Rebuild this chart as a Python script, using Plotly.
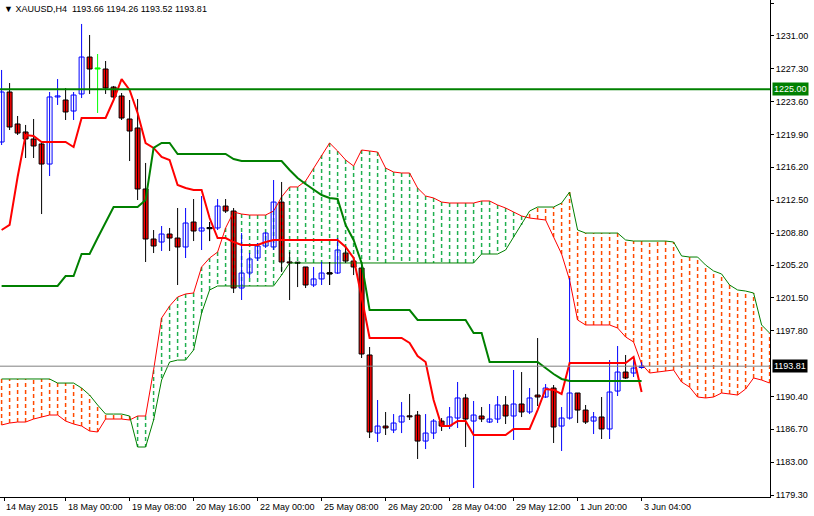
import plotly.graph_objects as go

opens = [1219.05,1224.68,1221.08,1220.18,1219.39,1218.83,1216.57,1224.12,1223.78,1222.54,
         1224.46,1228.62,1227.27,1227.27,1225.24,1224.23,1221.64,1220.63,1213.76,1208.13,
         1207.79,1208.69,1208.24,1207.23,1210.04,1209.03,1209.37,1209.37,1211.84,1211.28,
         1202.61,1204.30,1205.99,1207.34,1207.23,1212.29,1205.54,1205.43,1204.98,1202.95,
         1203.63,1204.30,1204.30,1206.55,1205.65,1204.86,1195.07,1186.28,1187.07,1186.62,
         1187.52,1188.20,1188.31,1185.38,1186.28,1187.63,1187.07,1187.97,1190.23,1187.63,
         1188.20,1187.52,1187.86,1189.44,1188.20,1189.55,1188.65,1190.56,1190.34,1191.35,
         1187.07,1187.97,1190.79,1188.87,1187.63,1188.09,1186.74,1191.01,1193.15,1193.04,
         1193.66]
highs = [1227.16,1225.69,1221.98,1220.97,1221.64,1218.94,1224.68,1226.14,1225.13,1224.68,
         1232.34,1231.10,1228.96,1228.17,1225.36,1224.57,1223.78,1223.89,1216.69,1209.14,
         1209.59,1209.37,1211.62,1211.62,1212.63,1212.97,1210.04,1212.63,1212.63,1211.62,
         1208.80,1206.55,1207.68,1208.92,1214.77,1214.55,1206.66,1205.54,1204.98,1204.98,
         1205.54,1205.54,1208.24,1207.23,1206.10,1205.43,1195.97,1190.00,1188.65,1188.42,
         1189.77,1190.68,1188.76,1188.42,1187.86,1187.97,1189.21,1192.03,1190.68,1189.89,
         1189.21,1189.55,1190.45,1190.45,1193.38,1193.15,1191.35,1196.98,1191.80,1191.69,
         1189.21,1203.74,1190.79,1189.44,1188.65,1190.34,1194.50,1196.08,1195.07,1194.50,
         1194.26]
lows = [1218.71,1220.40,1219.84,1217.25,1217.25,1210.94,1215.22,1223.22,1221.53,1221.53,
        1224.00,1224.46,1222.32,1224.46,1223.89,1221.53,1216.91,1212.52,1205.54,1206.55,
        1206.78,1206.78,1202.95,1205.99,1207.90,1206.89,1207.90,1209.14,1211.06,1202.05,
        1201.26,1203.74,1205.65,1207.12,1206.89,1204.41,1201.26,1202.72,1202.61,1202.72,
        1202.95,1202.95,1204.19,1205.43,1204.07,1194.73,1185.72,1185.27,1186.06,1186.28,
        1186.28,1187.75,1183.36,1184.48,1185.61,1186.51,1186.74,1186.85,1184.71,1180.09,
        1187.52,1187.41,1187.41,1187.30,1185.50,1188.08,1188.42,1189.32,1190.23,1185.16,
        1184.26,1187.80,1187.41,1187.30,1186.17,1185.61,1185.61,1190.45,1192.37,1192.59,
        1193.52]
closes = [1224.68,1220.74,1220.06,1219.39,1218.60,1216.57,1224.12,1224.23,1222.43,1224.34,
          1228.62,1227.27,1227.27,1225.13,1224.12,1221.75,1220.29,1213.76,1208.13,1207.34,
          1208.69,1208.24,1207.23,1209.93,1209.03,1209.37,1209.30,1211.84,1211.28,1202.61,
          1204.30,1205.88,1207.34,1208.80,1212.29,1205.54,1205.43,1205.40,1202.95,1203.63,
          1204.30,1204.20,1206.89,1205.65,1204.98,1195.18,1186.40,1187.07,1186.85,1187.41,
          1188.20,1188.10,1185.38,1186.28,1187.63,1187.07,1188.09,1190.23,1187.86,1188.31,
          1187.86,1187.86,1189.44,1188.20,1189.55,1188.65,1190.23,1190.34,1191.35,1186.96,
          1187.97,1190.79,1188.87,1187.52,1188.09,1186.74,1190.90,1193.15,1192.48,1193.60,
          1193.81]

tenkan = [1209.14,1209.71,1215.11,1219.84,1219.73,1219.05,1219.05,1219.05,1219.05,1218.49,
          1221.75,1221.75,1221.75,1221.75,1223.78,1226.14,1224.91,1222.32,1218.94,1218.38,
          1217.36,1217.03,1214.21,1213.87,1213.65,1213.65,1210.49,1208.24,1208.24,1207.79,
          1207.45,1207.45,1207.45,1207.79,1208.02,1208.02,1208.02,1208.02,1208.02,1208.02,
          1208.02,1208.02,1208.02,1207.23,1205.99,1201.60,1196.98,1196.98,1196.98,1196.98,
          1196.98,1196.42,1194.95,1194.28,1190.00,1187.07,1187.07,1187.63,1187.63,1186.06,
          1186.06,1186.06,1186.06,1186.06,1186.74,1186.74,1186.74,1188.87,1191.24,1191.13,
          1190.68,1194.17,1194.17,1194.17,1194.17,1194.17,1194.17,1194.17,1194.17,1194.84,
          1190.90]
kijun = [1202.84,1202.84,1202.84,1202.84,1202.84,1202.84,1202.84,1202.84,1203.96,1203.96,
         1206.44,1206.44,1208.24,1210.04,1211.73,1211.73,1211.73,1211.73,1212.52,1218.38,
         1218.94,1218.94,1217.70,1217.70,1217.70,1217.70,1217.70,1217.70,1217.70,1217.14,
         1216.91,1216.91,1216.91,1216.91,1216.91,1216.91,1215.90,1215.00,1214.32,1213.65,
         1213.08,1212.75,1212.63,1209.71,1208.02,1205.43,1200.13,1200.13,1200.13,1200.13,
         1200.13,1200.13,1199.01,1199.01,1199.01,1199.01,1199.01,1199.01,1199.01,1197.54,
         1197.54,1194.28,1194.28,1194.28,1194.28,1194.28,1194.28,1194.28,1193.60,1192.93,
         1192.37,1192.14,1192.14,1192.14,1192.14,1192.14,1192.14,1192.14,1192.14,1192.14,
         1192.14]
span_a = [1187.19,1187.41,1187.52,1187.52,1187.86,1188.09,1188.31,1188.31,1187.63,1187.30,
          1187.07,1186.51,1186.40,1187.86,1187.86,1187.86,1187.75,1188.20,1188.20,1193.38,
          1199.23,1200.58,1201.60,1201.94,1202.05,1204.98,1205.99,1206.66,1209.37,1211.17,
          1210.94,1210.83,1210.83,1210.83,1211.28,1212.86,1213.99,1213.99,1214.66,1216.12,
          1217.59,1218.94,1218.04,1217.03,1216.35,1218.15,1218.04,1217.92,1216.12,1215.67,
          1215.56,1215.56,1213.87,1212.97,1212.75,1212.29,1212.18,1212.18,1212.18,1212.18,
          1212.41,1212.41,1211.96,1211.62,1211.17,1210.72,1210.49,1210.38,1210.27,1208.35,
          1206.44,1203.51,1199.01,1198.45,1198.45,1198.45,1198.45,1198.11,1197.10,1196.53,
          1194.05,1193.04,1193.15,1193.26,1193.38,1192.03,1191.46,1190.34,1190.23,1190.34,
          1190.79,1190.68,1190.56,1191.24,1192.48,1192.25,1191.91]
span_b = [1192.37,1192.37,1192.37,1192.37,1192.37,1192.37,1192.37,1191.91,1191.91,1191.91,
          1191.35,1190.56,1189.44,1188.42,1188.42,1188.42,1188.20,1184.71,1184.71,1187.75,
          1192.25,1194.28,1194.50,1194.50,1195.63,1199.80,1202.39,1202.84,1202.84,1202.84,
          1202.84,1202.84,1202.84,1202.84,1202.84,1204.07,1205.43,1205.43,1205.43,1205.43,
          1205.43,1205.43,1205.43,1205.43,1205.43,1205.43,1205.43,1205.43,1205.43,1205.43,
          1205.43,1205.43,1205.43,1205.43,1205.43,1205.43,1205.43,1205.43,1205.43,1205.43,
          1206.44,1206.44,1206.44,1206.89,1208.35,1209.71,1211.28,1211.73,1211.73,1211.73,
          1212.18,1213.42,1209.14,1208.80,1208.80,1208.80,1208.80,1208.80,1208.02,1207.90,
          1207.90,1207.90,1207.90,1207.90,1207.79,1206.22,1206.10,1206.10,1205.20,1204.53,
          1204.19,1202.95,1202.39,1202.27,1202.05,1198.45,1197.54]

y_ticks = [1234.70,1231.00,1227.30,1223.60,1219.90,1216.20,1212.50,1208.80,1205.20,
           1201.50,1197.80,1190.40,1186.70,1183.00,1179.30]
x_labels = ["14 May 2015","18 May 00:00","19 May 08:00","20 May 16:00","22 May 00:00",
            "25 May 08:00","26 May 20:00","28 May 04:00","29 May 12:00","1 Jun 20:00","3 Jun 04:00"]
x_label_pos = [0.3,8,16,24,32,40,48,56,64,72,80]
level = 1225.00
last_price = 1193.81

FONT = "Liberation Sans"
n = len(opens)
xi = list(range(n))
fig = go.Figure()

# cloud hatching
gx, gy, ox, oy = [], [], [], []
for j, (a, b) in enumerate(zip(span_a, span_b)):
    if a >= b:
        gx += [j, j, None]; gy += [a, b, None]
    else:
        ox += [j, j, None]; oy += [a, b, None]
fig.add_trace(go.Scatter(x=gx, y=gy, mode="lines", line=dict(color="#20b050", width=1.5, dash="4px,3px"), hoverinfo="skip"))
fig.add_trace(go.Scatter(x=ox, y=oy, mode="lines", line=dict(color="#ff4a00", width=1.5, dash="4px,3px"), hoverinfo="skip"))
fig.add_trace(go.Scatter(x=list(range(len(span_a))), y=span_a, mode="lines", line=dict(color="#ff0000", width=1)))
fig.add_trace(go.Scatter(x=list(range(len(span_b))), y=span_b, mode="lines", line=dict(color="#008000", width=1)))

# wicks
def wick_trace(idx, color):
    xs, ys = [], []
    for i in idx:
        xs += [i, i, None]; ys += [highs[i], lows[i], None]
    return go.Scatter(x=xs, y=ys, mode="lines", line=dict(color=color, width=1), hoverinfo="skip")

bull = [i for i in xi if closes[i] > opens[i] + 0.05 and i != 12]
bear = [i for i in xi if closes[i] < opens[i] - 0.05 and i != 12]
doji_blue = [i for i in xi if abs(closes[i] - opens[i]) <= 0.05 and i not in (12, 26, 37, 41)]
doji_black = [26, 37, 41]
fig.add_trace(wick_trace(bull + doji_blue, "#0000ff"))
fig.add_trace(wick_trace(bear + doji_black, "#000000"))
fig.add_trace(wick_trace([12], "#00ff00"))

def body(idx, fill, edge):
    base = [min(opens[i], closes[i]) for i in idx]
    h = [max(abs(closes[i] - opens[i]), 0.12) for i in idx]
    return go.Bar(x=idx, y=h, base=base, width=0.62, marker=dict(color=fill, line=dict(color=edge, width=1)), hoverinfo="skip")

fig.add_trace(body(bull, "#ffffff", "#0000ff"))
fig.add_trace(body(bear, "#ff0000", "#000000"))
fig.add_trace(body(doji_blue, "#0000ff", "#0000ff"))
fig.add_trace(body(doji_black, "#000000", "#000000"))
fig.add_trace(body([12], "#00ff00", "#00ff00"))

fig.add_trace(go.Scatter(x=xi, y=tenkan, mode="lines", line=dict(color="#ff0000", width=2)))
fig.add_trace(go.Scatter(x=xi, y=kijun, mode="lines", line=dict(color="#008000", width=2)))

fig.add_hline(y=level, line=dict(color="#008000", width=2))
fig.add_hline(y=last_price, line=dict(color="#808080", width=1))

anns = []
for lab, pos in zip(x_labels, x_label_pos):
    anns.append(dict(x=pos, y=0, xref="x", yref="paper", text=lab, showarrow=False,
                     xanchor="left", yanchor="top", yshift=-3, font=dict(size=9, color="#000")))
anns.append(dict(x=1, y=level, xref="paper", yref="y", text="1225.00", showarrow=False,
                 xanchor="left", bgcolor="#008000", font=dict(size=9, color="#fff"), borderpad=1, xshift=2))
anns.append(dict(x=1, y=last_price, xref="paper", yref="y", text="1193.81", showarrow=False,
                 xanchor="left", bgcolor="#000000", font=dict(size=9, color="#fff"), borderpad=1, xshift=2))
anns.append(dict(x=0, y=1, xref="paper", yref="paper", text="▼ XAUUSD,H4  1193.66 1194.26 1193.52 1193.81",
                 showarrow=False, xanchor="left", yanchor="top", xshift=2, yshift=-2, font=dict(size=9, color="#000")))

fig.update_layout(
    width=814, height=516, margin=dict(l=0, r=44, t=0, b=19),
    paper_bgcolor="#ffffff", plot_bgcolor="#ffffff", showlegend=False, barmode="overlay",
    font=dict(family=FONT, size=9, color="#000"),
    annotations=anns,
    xaxis=dict(range=[-0.2, 96.05], showgrid=False, zeroline=False,
               tickvals=x_label_pos, ticktext=[""] * len(x_label_pos), ticks="outside", ticklen=3,
               tickcolor="#000", showline=True, linecolor="#000", mirror=True),
    yaxis=dict(range=[1179.08, 1235.04], side="right", showgrid=False, zeroline=False,
               tickvals=y_ticks, ticktext=[f"{v:.2f}" for v in y_ticks], ticks="outside", ticklen=3,
               tickcolor="#000", showline=True, linecolor="#000", mirror=True, tickfont=dict(size=9, family=FONT)),
)
fig.write_html("out.html", config={"displayModeBar": False},
               post_script="document.body.style.margin='0';document.body.style.overflow='hidden';")
